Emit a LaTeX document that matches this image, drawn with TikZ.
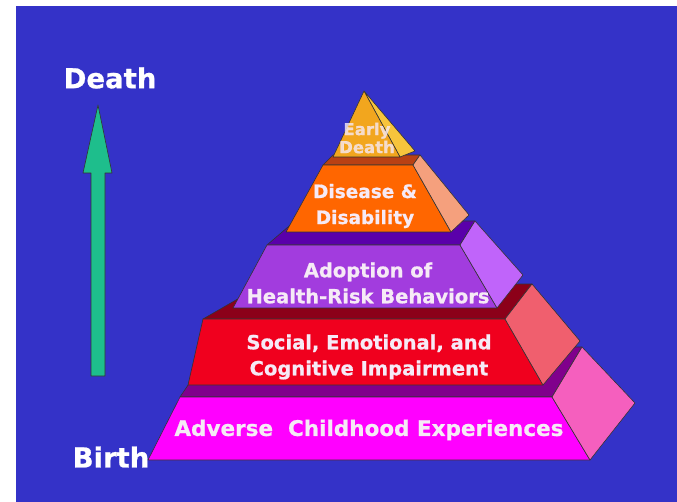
\documentclass[tikz,border=0pt]{standalone}
\usepackage{fontspec}
\setmainfont[BoldFeatures={FakeBold=0.8}]{DejaVu Sans}

\definecolor{slide}{RGB}{52,50,200}
\definecolor{tiertxt}{RGB}{246,234,246}
\definecolor{lifearrow}{RGB}{30,190,140}
% early death
\definecolor{earlyfront}{RGB}{242,166,30}
\definecolor{earlyside}{RGB}{247,196,60}
% disease
\definecolor{diseasetop}{RGB}{185,65,20}
\definecolor{diseasefront}{RGB}{255,102,0}
\definecolor{diseaseside}{RGB}{245,160,125}
% risk behaviours
\definecolor{risktop}{RGB}{90,0,170}
\definecolor{riskfront}{RGB}{162,60,222}
\definecolor{riskside}{RGB}{192,100,250}
% impairment
\definecolor{socialtop}{RGB}{140,0,25}
\definecolor{socialfront}{RGB}{240,0,30}
\definecolor{socialside}{RGB}{240,95,110}
% childhood
\definecolor{adversetop}{RGB}{128,0,140}
\definecolor{adversefront}{RGB}{255,0,255}
\definecolor{adverseside}{RGB}{245,95,190}

\tikzset{
	face/.style={draw=black!80, line width=0.6pt, line join=round},
	tiertext/.style={text=tiertxt, align=center, inner sep=0pt,
		font=\bfseries\fontsize{19.5}{26}\selectfont},
	lifetext/.style={text=white, inner sep=0pt,
		font=\bfseries\fontsize{27.5}{30}\selectfont},
}

\begin{document}
\begin{tikzpicture}[x=1pt, y=-1pt]
	%\draw[help lines, step=50] (0,0) grid (677,502);
	\useasboundingbox (0,0) rectangle (677,502);
	\fill[slide] (16,6) rectangle (677,502);

	% time arrow
	\draw[face, fill=lifearrow] (91,376) -- (91,173) -- (83,173) -- (98,105)
		-- (112,173) -- (105,173) -- (105,376) -- cycle;
	\node [lifetext] (death) at (110,78) {Death};
	\node [lifetext] (birth) at (111,457) {Birth};

	% adverse childhood experiences
	\draw[face, fill=adversetop] (180,397) -- (552,397) -- (582,347) -- (213,348) -- cycle;
	\draw[face, fill=adversefront] (148,460) -- (590,460) -- (552,397) -- (180,397) -- cycle;
	\draw[face, fill=adverseside] (552,397) -- (590,460) -- (635,403) -- (582,347) -- cycle;

	% impairment
	\draw[face, fill=socialtop] (203,319) -- (505,319) -- (532,284) -- (262,285) -- cycle;
	\draw[face, fill=socialfront] (188,385) -- (543,385) -- (505,319) -- (203,319) -- cycle;
	\draw[face, fill=socialside] (505,319) -- (543,385) -- (580,341) -- (532,284) -- cycle;

	% health-risk behaviors
	\draw[face, fill=risktop] (267,245) -- (460,245) -- (475,221) -- (295,221) -- cycle;
	\draw[face, fill=riskfront] (233,308) -- (497,308) -- (460,245) -- (267,245) -- cycle;
	\draw[face, fill=riskside] (460,245) -- (497,308) -- (523,275) -- (475,221) -- cycle;

	% disease and disability
	\draw[face, fill=diseasetop] (323,165) -- (413,165) -- (420,155) -- (333,155) -- cycle;
	\draw[face, fill=diseasefront] (286,232) -- (451,232) -- (413,165) -- (323,165) -- cycle;
	\draw[face, fill=diseaseside] (413,165) -- (451,232) -- (469,215) -- (420,155) -- cycle;

	% early death
	\draw[face, fill=earlyside] (364,91) -- (400,157) -- (415,151) -- cycle;
	\draw[face, fill=earlyfront] (364,91) -- (333,157) -- (400,157) -- cycle;

	\node [tiertext, text opacity=0.8, font=\bfseries\fontsize{16.5}{18}\selectfont]
		(early) at (367,138) {Early\\Death};
	\node [tiertext, font=\bfseries\fontsize{18.5}{26}\selectfont]
		(disease) at (365,206) {Disease \&\\Disability};
	\node [tiertext] (adoption) at (368,283) {Adoption of\\Health-Risk Behaviors};
	\node [tiertext] (social) at (369,357) {Social, Emotional, and\\Cognitive Impairment};
	\node [tiertext, font=\bfseries\fontsize{21.5}{26}\selectfont]
		(adverse) at (369,430) {Adverse\ \ Childhood Experiences};
\end{tikzpicture}
\end{document}
